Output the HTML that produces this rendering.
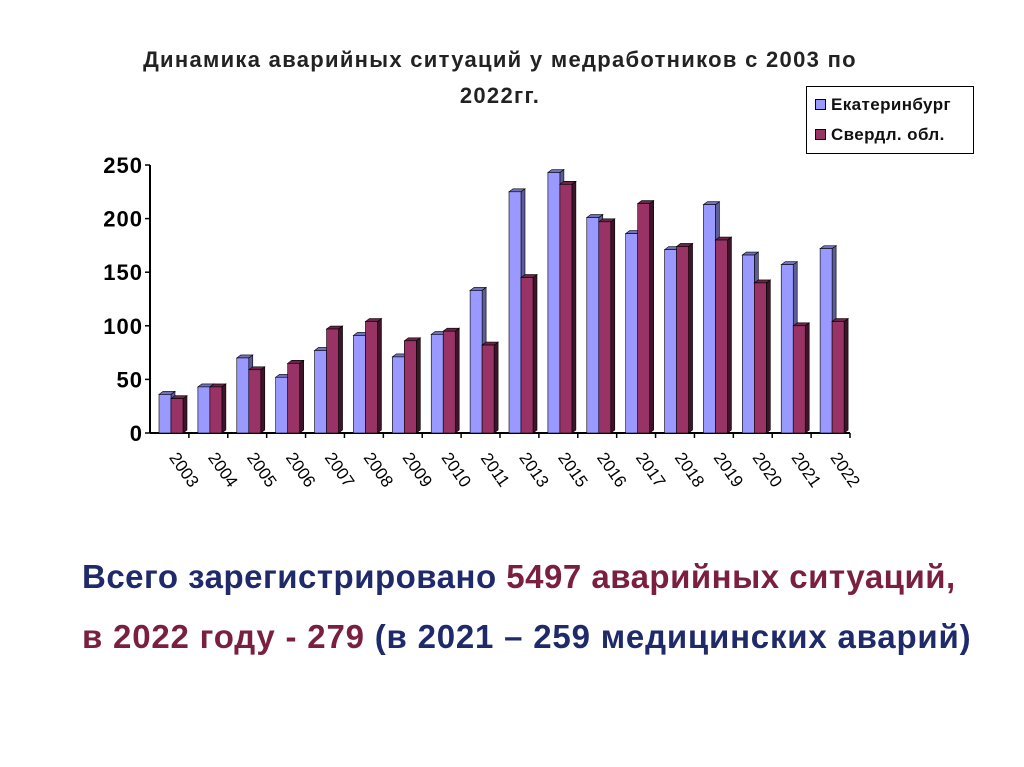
<!DOCTYPE html>
<html><head><meta charset="utf-8"><style>
body{margin:0;width:1024px;height:767px;background:#fff;font-family:"Liberation Sans",sans-serif;overflow:hidden;position:relative}
.t{position:absolute;font-weight:bold;white-space:nowrap}
</style></head><body>
<div class="t" style="left:100px;top:42px;width:800px;text-align:center;font-size:22px;letter-spacing:1.3px;line-height:36px;color:#222">Динамика аварийных ситуаций у медработников с 2003 по<br>2022гг.</div>
<div style="position:absolute;left:806px;top:86px;width:166px;height:66px;border:1px solid #000;font-size:17px;letter-spacing:0.4px;font-weight:bold;color:#111;white-space:nowrap">
<div style="position:absolute;left:8px;top:8px"><span style="display:inline-block;width:9px;height:9px;background:#9999ff;border:1px solid #000;margin-right:5px"></span>Екатеринбург</div>
<div style="position:absolute;left:8px;top:38px"><span style="display:inline-block;width:9px;height:9px;background:#993366;border:1px solid #000;margin-right:5px"></span>Свердл. обл.</div>
</div>
<svg id="c" width="1024" height="767" style="position:absolute;left:0;top:0"></svg>
<div class="t" style="left:82px;top:558px;font-size:33px;letter-spacing:0.5px;color:#1f2a6b">Всего зарегистрировано <span style="color:#7a1f3d">5497 аварийных ситуаций,</span></div>
<div class="t" style="left:82px;top:618px;font-size:33px;letter-spacing:0.8px;color:#7a1f3d">в 2022 году - 279 <span style="color:#1f2a6b">(в 2021 – 259 медицинских аварий)</span></div>
<script>
const categories=["2003","2004","2005","2006","2007","2008","2009","2010","2011","2013","2015","2016","2017","2018","2019","2020","2021","2022"];
const ekb=[36,43,70,52,77,91,71,92,133,225,243,201,186,171,213,166,157,172];
const sverdl=[32,43,59,65,97,104,86,95,82,145,232,197,214,174,180,140,100,104];
const yTicks=[0,50,100,150,200,250];
const svg=document.getElementById('c');const NS='http://www.w3.org/2000/svg';
const x0=150,x1=850,y0=433,yTop=165,yMax=250;
const bw=(x1-x0)/categories.length;
const y=v=>y0-(v/yMax)*(y0-yTop);
function mk(t,a,p){const e=document.createElementNS(NS,t);for(const k in a)e.setAttribute(k,a[k]);(p||svg).appendChild(e);return e;}
const ax=mk('line',{x1:x0,y1:yTop,x2:x0,y2:y0,stroke:'#000','stroke-width':2});


const bx=mk('line',{x1:x0,y1:y0,x2:x1,y2:y0,stroke:'#000','stroke-width':2});


yTicks.forEach(v=>{
 mk('line',{x1:x0-5,y1:y(v),x2:x0,y2:y(v),stroke:'#000','stroke-width':1.5});
 const t=mk('text',{x:x0-7,y:y(v)+8,'text-anchor':'end','font-size':22,'letter-spacing':1,'font-weight':'bold','font-family':'Liberation Sans'});
 t.textContent=v;
 
 
});
function bar(xl,w,v,fill,side,top,name){
 const yy=y(v),d=4,u=3;
 const g=mk('g',{});
 
 
 mk('polygon',{points:`${xl+w},${yy} ${xl+w+d},${yy-u} ${xl+w+d},${y0-u} ${xl+w},${y0}`,fill:side,stroke:'#000','stroke-width':0.6},g);
 mk('polygon',{points:`${xl},${yy} ${xl+d},${yy-u} ${xl+w+d},${yy-u} ${xl+w},${yy}`,fill:top,stroke:'#000','stroke-width':0.6},g);
 mk('rect',{x:xl,y:yy,width:w,height:y0-yy,fill:fill,stroke:'#000','stroke-width':0.6},g);
}
categories.forEach((c,i)=>{
 const xs=x0+i*bw;
 mk('line',{x1:xs+bw,y1:y0,x2:xs+bw,y2:y0+5,stroke:'#000','stroke-width':1.5});
 bar(xs+9,12,ekb[i],'#9999ff','#5c5c99','#7070c0','bar-ekb-'+c);
 bar(xs+21,12,sverdl[i],'#993366','#3d1428','#6b2447','bar-sverdl-'+c);
 const cx=xs+bw/2+10,cy=y0+40;
 const t=mk('text',{x:cx,y:cy,'font-size':17,'font-family':'Liberation Sans',transform:`rotate(55 ${cx} ${cy})`,'text-anchor':'middle'});
 t.textContent=c;
 
 
});
</script>
</body></html>
